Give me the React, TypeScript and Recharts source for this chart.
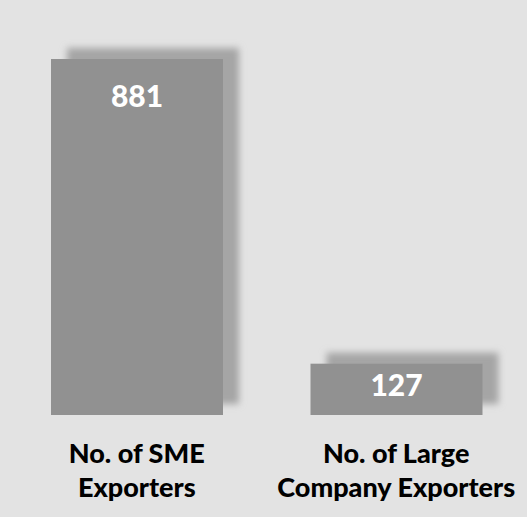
import React from "react";
import { BarChart, Bar, XAxis, YAxis, LabelList } from "recharts";

const categories = ["No. of SME\nExporters", "No. of Large\nCompany Exporters"];
const exporterCounts = [881, 127];

const data = categories.map((c, i) => ({ name: c, value: exporterCounts[i] }));

const BG = "#e3e3e3";
const BAR = "#919191";
const SHADOW = "#a5a5a5";
const FONT = "Lato, 'Open Sans', sans-serif";

const ShadowBar = (props: any) => {
  const { x, y, width, height } = props;
  return (
    <g>
      <rect x={x + 16} y={y - 11} width={width} height={height} fill={SHADOW} filter="url(#blurShadow)" />
      <rect x={x} y={y} width={width} height={height} fill={BAR} />
    </g>
  );
};

const ValueLabel = (props: any) => {
  const { x, y, width, height, value } = props;
  const cy = Math.min(y + 36, y + height * 0.4);
  return (
    <text
      x={x + width / 2}
      y={cy}
      textAnchor="middle"
      dominantBaseline="central"
      fill="#ffffff"
      fontFamily={FONT}
      fontWeight={900}
      fontSize={30}
    >
      {value}
    </text>
  );
};

const CategoryTick = (props: any) => {
  const { x, y, payload } = props;
  const lines = String(payload.value).split("\n");
  return (
    <text x={x} y={y} textAnchor="middle" fill="#000000" fontFamily={FONT} fontWeight={900} fontSize={27}>
      {lines.map((l, i) => (
        <tspan key={i} x={x} y={y + 40 + i * 34}>
          {l}
        </tspan>
      ))}
    </text>
  );
};

export default function App() {
  return (
    <div style={{ position: "absolute", left: 0, top: 0, width: 527, height: 517, background: BG }}>
      <BarChart width={527} height={517} data={data} margin={{ top: 59, right: 1, left: 7, bottom: 0 }}>
        <defs>
          <filter id="blurShadow" x="-20%" y="-20%" width="140%" height="140%">
            <feGaussianBlur stdDeviation="3.5" />
          </filter>
        </defs>
        <XAxis
          dataKey="name"
          axisLine={false}
          tickLine={false}
          height={102}
          interval={0}
          tick={<CategoryTick />}
        />
        <YAxis hide domain={[0, 881]} />
        <Bar dataKey="value" barSize={172} shape={<ShadowBar />} isAnimationActive={false}>
          <LabelList dataKey="value" content={<ValueLabel />} />
        </Bar>
      </BarChart>
    </div>
  );
}
